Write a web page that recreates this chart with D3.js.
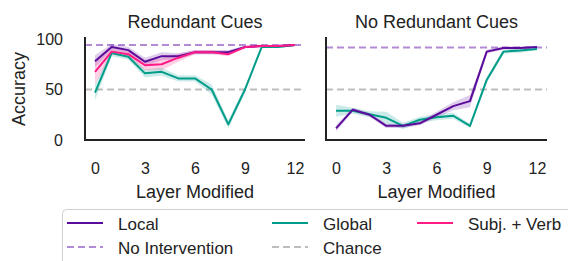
<!DOCTYPE html>
<html>
<head>
<meta charset="utf-8">
<script src="https://cdn.jsdelivr.net/npm/d3@7"></script>
<style>
  body { margin: 0; background: #fff; }
  svg { display: block; font-family: "Liberation Sans", Arial, sans-serif; }
</style>
</head>
<body>
<svg id="chart" width="568" height="261"></svg>
<script>
// ---- data ----
const layers = d3.range(0, 13);
const xTicks = [0, 3, 6, 9, 12];
const yTicks = [0, 50, 100];

// Redundant Cues
const rcLocal  = [78, 92, 89, 77.5, 83, 83, 87, 87, 87, 92, 93, 93, 94];
const rcGlobal = [47, 86, 82.5, 66, 67.5, 61, 61, 50, 15.5, 50, 92, 92, 94];
const rcSubj   = [67.5, 87.5, 85, 74, 75, 81.5, 87, 87, 85, 92, 93, 93, 94];
const rcLocalErr  = [6, 3, 3, 4, 4, 3, 2, 2, 2, 1, 1, 1, 1];
const rcGlobalErr = [8, 3, 3, 4, 4, 3, 3, 5, 4, 3, 1, 1, 1];
const rcSubjErr   = [12, 3, 3, 5, 6, 4, 2, 2, 2, 1, 1, 1, 1];
const rcNoInt = 94;

// No Redundant Cues
const nrLocal  = [11.5, 30, 25, 14, 14, 16.5, 25, 33.5, 38.5, 87.5, 91, 91, 92];
const nrGlobal = [29, 29, 25.5, 22, 14, 20, 22.5, 24, 14, 59.5, 87.5, 88.5, 90];
const nrLocalErr  = [3, 2, 2, 2, 2, 2, 3, 4, 6, 2, 1.5, 1.5, 1];
const nrGlobalErr = [6, 3, 3, 6, 3, 3, 3, 3, 2, 3, 2, 2, 1];
const nrNoInt = 91.5;

const chance = 50;

const C = {
  local: "#5b0b9b",
  global: "#009c8a",
  subj: "#ff1a86",
  noint: "#b38ad6",
  chance: "#bdbdbd",
  ink: "#222"
};

const svg = d3.select("#chart");

const y = d3.scaleLinear().domain([0, 100]).range([140, 39]);

function panel(opts) {
  const x = d3.scaleLinear().domain([-0.6, 12.6]).range([opts.left, opts.right]);
  const g = svg.append("g");

  // reference lines
  [[opts.noint, C.noint], [chance, C.chance]].forEach(([v, col]) => {
    g.append("line")
      .attr("x1", opts.left).attr("x2", opts.right)
      .attr("y1", y(v)).attr("y2", y(v))
      .attr("stroke", col).attr("stroke-width", 2)
      .attr("stroke-dasharray", "7,4");
  });

  const area = d3.area().x((d, i) => x(layers[i]))
    .y0(d => y(d[0] - d[1])).y1(d => y(d[0] + d[1]));
  const line = d3.line().x((d, i) => x(layers[i])).y(d => y(d));

  opts.series.forEach(s => {
    g.append("path").datum(s.values.map((v, i) => [v, s.err[i]]))
      .attr("d", area).attr("fill", s.color).attr("fill-opacity", 0.2);
  });
  opts.series.forEach(s => {
    g.append("path").datum(s.values).attr("d", line)
      .attr("fill", "none").attr("stroke", s.color).attr("stroke-width", 2)
      .attr("stroke-linejoin", "round");
  });

  // axes
  const xa = g.append("g").attr("transform", "translate(0,140)")
    .call(d3.axisBottom(x).tickValues(xTicks).tickSize(0).tickPadding(22));
  xa.select(".domain").attr("stroke", C.ink).attr("stroke-width", 2)
    .attr("d", `M${opts.left},0H${opts.right}`);
  xa.selectAll("text").attr("font-size", 16).attr("fill", C.ink)
    .attr("dy", 0).attr("y", 34)
    .attr("font-family", "Liberation Sans, Arial, sans-serif");

  const ya = g.append("g").attr("transform", `translate(${opts.left},0)`)
    .call(d3.axisLeft(y).tickValues(yTicks).tickSize(0).tickPadding(22));
  ya.select(".domain").attr("stroke", C.ink).attr("stroke-width", 2)
    .attr("d", `M0,37V141`);
  ya.selectAll("text").attr("font-size", 16).attr("fill", C.ink)
    .attr("font-family", "Liberation Sans, Arial, sans-serif")
    .style("display", opts.yLabels ? null : "none");

  const cx = (x(0) + x(12)) / 2;
  g.append("text").attr("x", cx).attr("y", 28).attr("text-anchor", "middle")
    .attr("font-size", 18).attr("fill", C.ink).text(opts.title);
  g.append("text").attr("x", cx).attr("y", 198).attr("text-anchor", "middle")
    .attr("font-size", 18).attr("fill", C.ink).text("Layer Modified");
}

panel({
  left: 85, right: 305, title: "Redundant Cues", noint: rcNoInt, yLabels: true,
  series: [
    { values: rcGlobal, err: rcGlobalErr, color: C.global },
    { values: rcLocal, err: rcLocalErr, color: C.local },
    { values: rcSubj, err: rcSubjErr, color: C.subj }
  ]
});
panel({
  left: 326, right: 547, title: "No Redundant Cues", noint: nrNoInt, yLabels: false,
  series: [
    { values: nrGlobal, err: nrGlobalErr, color: C.global },
    { values: nrLocal, err: nrLocalErr, color: C.local }
  ]
});

svg.append("text").attr("transform", "translate(25,89) rotate(-90)")
  .attr("text-anchor", "middle").attr("font-size", 18).attr("fill", C.ink)
  .text("Accuracy");

// ---- legend ----
const legendItems = [
  { label: "Local", color: C.local, dash: null, col: 0, row: 0 },
  { label: "Global", color: C.global, dash: null, col: 1, row: 0 },
  { label: "Subj. + Verb", color: C.subj, dash: null, col: 2, row: 0 },
  { label: "No Intervention", color: C.noint, dash: "7,4", col: 0, row: 1 },
  { label: "Chance", color: C.chance, dash: "7,4", col: 1, row: 1 }
];
const colX = [67, 272, 417];
const rowY = [223, 247];

svg.append("rect").attr("x", 62.5).attr("y", 209.5).attr("width", 520).attr("height", 70)
  .attr("rx", 4).attr("fill", "#fff").attr("stroke", "#d0d0d0").attr("stroke-width", 1);

const lg = svg.append("g").selectAll("g").data(legendItems).join("g")
  .attr("transform", d => `translate(${colX[d.col]},${rowY[d.row]})`);
lg.append("line").attr("x1", 0).attr("x2", 36).attr("y1", 0).attr("y2", 0)
  .attr("stroke", d => d.color).attr("stroke-width", 2)
  .attr("stroke-dasharray", d => d.dash);
lg.append("text").attr("x", 51).attr("y", 6.5).attr("font-size", 17).attr("fill", C.ink)
  .text(d => d.label);
</script>
</body>
</html>
